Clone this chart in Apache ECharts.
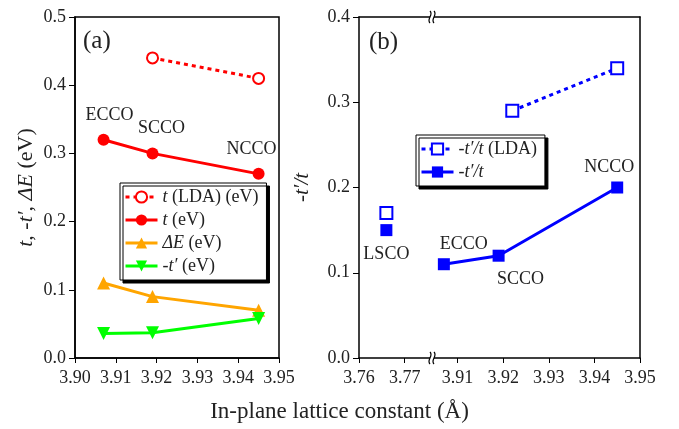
<!DOCTYPE html>
<html>
<head>
<meta charset="utf-8">
<script src="https://cdn.jsdelivr.net/npm/echarts@6/dist/echarts.min.js"></script>
<style>
  html, body { margin: 0; padding: 0; background: #fff; }
  #myChart { width: 679px; height: 429px; }
</style>
</head>
<body>
<div id="myChart"></div>
<script>
// panel (a): hopping parameters vs lattice constant
const compounds = ['ECCO', 'SCCO', 'NCCO'];
const latticeA = [3.907, 3.919, 3.945];
const latticeLDA = [3.919, 3.945];
const tLDA = [0.44, 0.41];
const tFit = [0.32, 0.30, 0.27];
const deltaE = [0.11, 0.09, 0.07];
const minusTp = [0.036, 0.037, 0.058];

// panel (b): -t'/t
const lscoX = [3.766];
const lscoRatio = [0.15];
const lscoRatioLDA = [0.17];
const ratioLDAx = [3.922, 3.945];
const ratioLDA = [0.29, 0.34];
const ratio = [0.11, 0.12, 0.20];

const ticksBlow = [3.76, 3.77];
const ticksBhigh = [3.91, 3.92, 3.93, 3.94, 3.95];

const FONT = 'Liberation Serif';
const pairs = (xs, ys) => xs.map((x, i) => [x, ys[i]]);

const legendRichA = {
  't (LDA) (eV)': '{i|t} (LDA) (eV)',
  't (eV)': '{i|t} (eV)',
  'ΔE (eV)': '{i|ΔE} (eV)',
  '-t′ (eV)': '-{i|t′} (eV)'
};
const legendRichB = {
  '-t′/t (LDA)': '{i|-t′/t} (LDA)',
  '-t′/t': '{i|-t′/t}'
};
const rich = {
  i: { fontStyle: 'italic', fontFamily: FONT, fontSize: 18, color: '#222' }
};

const axisLine = { show: true, lineStyle: { color: '#000', width: 1.5 } };
const tickLabel = { fontFamily: FONT, fontSize: 18, color: '#222' };

// label placement for each compound
const labelOffsA = [[6, -4], [9, -5], [-7, -5]];
const labelPosB = [
  { position: 'top', offset: [20, 0] },
  { position: 'bottom', offset: [22, 4] },
  { position: 'top', offset: [-8, 0] }
];

function wave(x, y) {
  return {
    type: 'bezierCurve',
    shape: { x1: x, y1: y - 6, cpx1: x + 4, cpy1: y - 2, cpx2: x - 4, cpy2: y + 2, x2: x, y2: y + 6 },
    style: { stroke: '#000', lineWidth: 1.2, fill: null },
    z: 100
  };
}
function breakMark(y) {
  return [
    { type: 'rect', shape: { x: 430, y: y - 3, width: 4, height: 6 }, style: { fill: '#fff' }, z: 99 },
    wave(430, y), wave(434, y)
  ];
}

const legendBase = {
  orient: 'vertical',
  itemWidth: 32, itemHeight: 14, itemGap: 5,
  padding: [5, 8, 5, 4],
  backgroundColor: '#fff', borderColor: '#000', borderWidth: 1,
  shadowColor: '#000', shadowOffsetX: 3, shadowOffsetY: 3, shadowBlur: 0,
  selectedMode: false,
  lineStyle: { width: 3 },
  textStyle: { fontFamily: FONT, fontSize: 18, color: '#222', rich: rich }
};

const myChart = echarts.init(document.getElementById('myChart'));
myChart.setOption({
  backgroundColor: '#fff',
  animation: false,
  title: {
    text: 'In-plane lattice constant (Å)',
    left: 'center',
    top: 395,
    textStyle: { fontFamily: FONT, fontSize: 23, fontWeight: 'normal', color: '#222' }
  },
  grid: [
    { left: 75, right: 400, top: 17, bottom: 71, show: true, borderColor: '#000', borderWidth: 1.5 },
    { left: 359, right: 247, top: 17, bottom: 71 },
    { left: 432, right: 39, top: 17, bottom: 71 }
  ],
  xAxis: [
    {
      gridIndex: 0, type: 'value', min: 3.90, max: 3.95, interval: 0.01,
      axisLine: axisLine, splitLine: { show: false },
      axisTick: { show: true, length: 5, lineStyle: { color: '#000' } },
      axisLabel: { ...tickLabel, margin: 11, formatter: v => v.toFixed(2) }
    },
    {
      gridIndex: 1, type: 'value', min: 3.76, max: 3.776,
      axisLine: axisLine, splitLine: { show: false },
      axisTick: { show: true, length: 5, customValues: ticksBlow, lineStyle: { color: '#000' } },
      axisLabel: { ...tickLabel, margin: 11, customValues: ticksBlow, formatter: v => v.toFixed(2) }
    },
    {
      gridIndex: 2, type: 'value', min: 3.9044, max: 3.95,
      axisLine: axisLine, splitLine: { show: false },
      axisTick: { show: true, length: 5, customValues: ticksBhigh, lineStyle: { color: '#000' } },
      axisLabel: { ...tickLabel, margin: 11, customValues: ticksBhigh, formatter: v => v.toFixed(2) }
    },
    {
      gridIndex: 1, type: 'value', position: 'top', min: 3.76, max: 3.776,
      axisLine: axisLine, axisTick: { show: false }, axisLabel: { show: false }, splitLine: { show: false }
    },
    {
      gridIndex: 2, type: 'value', position: 'top', min: 3.9044, max: 3.95,
      axisLine: axisLine, axisTick: { show: false }, axisLabel: { show: false }, splitLine: { show: false }
    }
  ],
  yAxis: [
    {
      gridIndex: 0, type: 'value', min: 0, max: 0.5, interval: 0.1,
      axisLine: axisLine, splitLine: { show: false },
      axisTick: { show: true, length: 6, lineStyle: { color: '#000' } },
      axisLabel: { ...tickLabel, margin: 9, formatter: v => v.toFixed(1) },
      name: '{i|t}{n|, -}{i|t′}{n|, }{i|ΔE}{n| (eV)}',
      nameLocation: 'middle', nameGap: 38, nameRotate: 90,
      nameTextStyle: {
        rich: {
          i: { fontStyle: 'italic', fontFamily: FONT, fontSize: 22, color: '#222' },
          n: { fontFamily: FONT, fontSize: 22, color: '#222' }
        }
      }
    },
    {
      gridIndex: 1, type: 'value', min: 0, max: 0.4, interval: 0.1,
      axisLine: axisLine, splitLine: { show: false },
      axisTick: { show: true, length: 6, lineStyle: { color: '#000' } },
      axisLabel: { ...tickLabel, margin: 9, formatter: v => v.toFixed(1) },
      name: '{i|-t′/t}',
      nameLocation: 'middle', nameGap: 46, nameRotate: 90,
      nameTextStyle: {
        rich: { i: { fontStyle: 'italic', fontFamily: FONT, fontSize: 21, color: '#222' } }
      }
    },
    {
      gridIndex: 2, type: 'value', position: 'right', min: 0, max: 0.4,
      axisLine: axisLine, axisTick: { show: false }, axisLabel: { show: false }, splitLine: { show: false }
    }
  ],
  legend: [
    {
      ...legendBase,
      data: ['t (LDA) (eV)', 't (eV)', 'ΔE (eV)', '-t′ (eV)'],
      left: 120, top: 183,
      formatter: name => legendRichA[name]
    },
    {
      ...legendBase,
      data: ['-t′/t (LDA)', '-t′/t'],
      left: 416, top: 135,
      formatter: name => legendRichB[name]
    }
  ],
  graphic: [
    { type: 'text', left: 83, top: 29, style: { text: '(a)', font: '25px "Liberation Serif"', fill: '#222' } },
    { type: 'text', left: 369, top: 30, style: { text: '(b)', font: '25px "Liberation Serif"', fill: '#222' } },
    ...breakMark(17),
    ...breakMark(358)
  ],
  series: [
    {
      name: 't (LDA) (eV)', type: 'line', xAxisIndex: 0, yAxisIndex: 0,
      data: pairs(latticeLDA, tLDA),
      symbol: 'emptyCircle', symbolSize: 11,
      lineStyle: { color: '#ff0000', width: 3, type: [4, 4] },
      itemStyle: { color: '#ff0000', borderWidth: 1, borderColor: '#ff0000' }
    },
    {
      name: 't (eV)', type: 'line', xAxisIndex: 0, yAxisIndex: 0,
      data: pairs(latticeA, tFit).map((p, i) => ({
        value: p,
        label: {
          show: true, position: 'top', distance: 5, offset: labelOffsA[i],
          formatter: compounds[i], fontFamily: FONT, fontSize: 18, color: '#222'
        }
      })),
      symbol: 'circle', symbolSize: 12,
      lineStyle: { color: '#ff0000', width: 3 },
      itemStyle: { color: '#ff0000' }
    },
    {
      name: 'ΔE (eV)', type: 'line', xAxisIndex: 0, yAxisIndex: 0,
      data: pairs(latticeA, deltaE),
      symbol: 'triangle', symbolSize: 13,
      lineStyle: { color: '#ffa500', width: 3 },
      itemStyle: { color: '#ffa500' }
    },
    {
      name: '-t′ (eV)', type: 'line', xAxisIndex: 0, yAxisIndex: 0,
      data: pairs(latticeA, minusTp),
      symbol: 'triangle', symbolRotate: 180, symbolSize: 13,
      lineStyle: { color: '#00ff00', width: 3 },
      itemStyle: { color: '#00ff00' }
    },
    {
      name: '-t′/t (LDA)', type: 'line', xAxisIndex: 2, yAxisIndex: 2,
      data: pairs(ratioLDAx, ratioLDA),
      symbol: 'emptyRect', symbolSize: 12,
      lineStyle: { color: '#0000ff', width: 3, type: [4, 4] },
      itemStyle: { color: '#0000ff', borderWidth: 1, borderColor: '#0000ff' }
    },
    {
      name: '-t′/t', type: 'line', xAxisIndex: 2, yAxisIndex: 2,
      data: pairs(latticeA, ratio).map((p, i) => ({
        value: p,
        label: {
          show: true, position: labelPosB[i].position, distance: 5, offset: labelPosB[i].offset,
          formatter: compounds[i], fontFamily: FONT, fontSize: 18, color: '#222'
        }
      })),
      symbol: 'rect', symbolSize: 12,
      lineStyle: { color: '#0000ff', width: 3 },
      itemStyle: { color: '#0000ff' }
    },
    {
      name: '-t′/t (LDA)', type: 'line', xAxisIndex: 1, yAxisIndex: 1,
      data: pairs(lscoX, lscoRatioLDA),
      symbol: 'emptyRect', symbolSize: 12,
      lineStyle: { color: '#0000ff', width: 3, type: [4, 4] },
      itemStyle: { color: '#0000ff', borderWidth: 1, borderColor: '#0000ff' }
    },
    {
      name: '-t′/t', type: 'line', xAxisIndex: 1, yAxisIndex: 1,
      data: pairs(lscoX, lscoRatio).map(p => ({
        value: p,
        label: {
          show: true, position: 'bottom', distance: 5, offset: [0, 4],
          formatter: 'LSCO', fontFamily: FONT, fontSize: 18, color: '#222'
        }
      })),
      symbol: 'rect', symbolSize: 12,
      lineStyle: { color: '#0000ff', width: 3 },
      itemStyle: { color: '#0000ff' }
    }
  ]
});
</script>
</body>
</html>
